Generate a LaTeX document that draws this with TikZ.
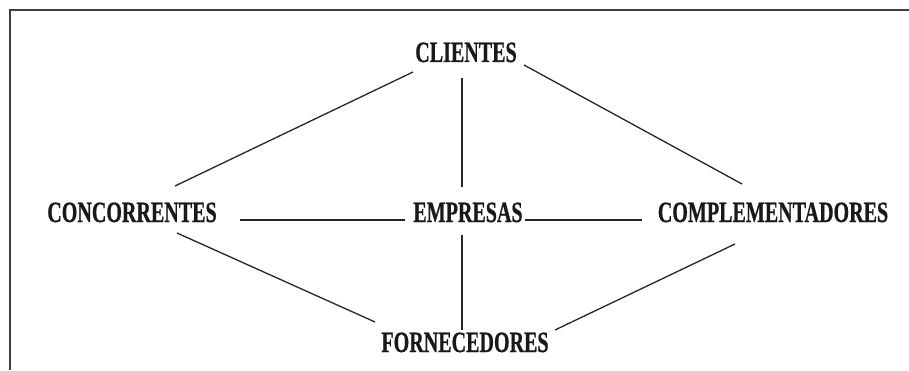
\documentclass[tikz,border=0pt]{standalone}
\usepackage{fontspec}
\setmainfont{Liberation Serif}
\newfontfamily\lblfont[FakeStretch=0.68,FakeBold=0.6]{Liberation Serif}
\usetikzlibrary{calc}
\tikzset{
  lbl/.style={anchor=base, inner sep=0pt, font=\lblfont\bfseries\fontsize{29.5}{31}\selectfont, text=black!90},
  link/.style={line width=1.3pt, black!85},
  frame/.style={line width=1.6pt, black!75}
}
\begin{document}
\begin{tikzpicture}[x=1pt,y=1pt]
\useasboundingbox (0,0) rectangle (909,370);
\fill[white] (0,0) rectangle (909,370);
\draw[frame] (10,0) -- (10,360) -- (909,360);

\node[lbl] (cl) at (466,308) {CLIENTES};
\node[lbl] (co) at (132,148) {CONCORRENTES};
\node[lbl] (em) at (468,148) {EMPRESAS};
\node[lbl] (cm) at (773,148) {COMPLEMENTADORES};
\node[lbl] (fo) at (465,18) {FORNECEDORES};

\draw[link] ($(cl.base)+(-53,-10)$) -- ($(co.base)+(43,36)$);
\draw[link] ($(cl.base)+(-4,-16)$) -- ($(em.base)+(-6,35)$);
\draw[link] ($(cl.base)+(58,-3)$) -- ($(cm.base)+(-31,38)$);
\draw[link] ($(co.base)+(108,2)$) -- ($(em.base)+(-63,2)$);
\draw[link] ($(em.base)+(57,2)$) -- ($(cm.base)+(-131,2)$);
\draw[link] ($(em.base)+(-6,-13)$) -- ($(fo.base)+(-3,22)$);
\draw[link] ($(co.base)+(45,-11)$) -- ($(fo.base)+(-90,30)$);
\draw[link] ($(cm.base)+(-38,-22)$) -- ($(fo.base)+(90,22)$);
\end{tikzpicture}
\end{document}
